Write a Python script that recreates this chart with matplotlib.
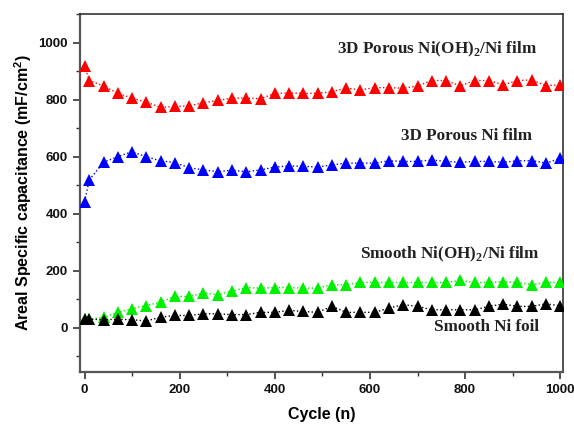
import matplotlib
matplotlib.use("Agg")
import matplotlib.pyplot as plt
from matplotlib.ticker import MultipleLocator

plt.rcParams["mathtext.fontset"] = "custom"
plt.rcParams["mathtext.bf"] = "Liberation Serif:bold"
plt.rcParams["mathtext.rm"] = "Liberation Serif:bold"
plt.rcParams["mathtext.sf"] = "Liberation Sans:bold"

cycles = [0, 10] + list(range(40, 1001, 30))

porous_nioh = [919, 868, 849, 823, 806, 792, 774, 777, 779, 790, 798, 806, 806, 804,
               823, 824, 823, 823, 829, 841, 835, 843, 843, 841, 849, 868, 868, 849,
               868, 868, 853, 868, 870, 850, 853]
porous_ni = [443, 519, 581, 601, 618, 600, 586, 580, 562, 554, 548, 553, 548, 554,
             564, 568, 567, 564, 572, 578, 578, 578, 586, 584, 584, 589, 584, 581,
             584, 584, 581, 586, 587, 578, 595]
smooth_nioh = [30, 30, 36, 54, 67, 78, 90, 110, 110, 122, 116, 129, 141, 139,
               141, 141, 139, 139, 151, 151, 159, 159, 159, 159, 159, 159, 159, 166,
               159, 159, 162, 159, 151, 159, 159]
smooth_ni = [30, 30, 28, 30, 28, 24, 37, 43, 43, 49, 49, 46, 46, 54,
             54, 61, 57, 54, 75, 54, 54, 54, 69, 81, 75, 63, 63, 63,
             63, 75, 83, 75, 75, 84, 77]

labels = ["3D Porous Ni(OH)$_\\mathbf{2}$/Ni film", "3D Porous Ni film",
          "Smooth Ni(OH)$_\\mathbf{2}$/Ni film", "Smooth Ni foil"]
label_pos = [(952, 979), (940, 674), (957, 256), (955, 4)]

series = [porous_nioh, porous_ni, smooth_nioh, smooth_ni]
colors = ["#ff0000", "#0000ff", "#00f000", "#000000"]

fig = plt.figure(figsize=(5.74, 4.25), dpi=100)
ax = fig.add_axes([0.139, 0.125, 0.842, 0.841])

for vals, c in zip(series, colors):
    ax.plot(cycles, vals, linestyle=":", linewidth=1.0, color=c,
            marker="^", markersize=8.5, markeredgewidth=0, zorder=3)

for lab, (x, y) in zip(labels, label_pos):
    ax.text(x, y, lab, ha="right", va="center", fontsize=12.3, fontweight="bold",
            family="Liberation Serif", color="#222222")

ax.set_xlim(-10, 1006)
ax.set_ylim(-155, 1100)
ax.xaxis.set_major_locator(MultipleLocator(200))
ax.xaxis.set_minor_locator(MultipleLocator(100))
ax.yaxis.set_major_locator(MultipleLocator(200))
ax.yaxis.set_minor_locator(MultipleLocator(100))
ax.set_yticks(range(0, 1001, 200))
ax.tick_params(axis="both", which="both", direction="out", colors="#333333")
ax.tick_params(which="major", length=5, width=1.2)
ax.tick_params(which="minor", length=3, width=1.0)
ax.tick_params(top=False, right=False)
for lab in ax.get_xticklabels() + ax.get_yticklabels():
    lab.set_fontweight("bold")
    lab.set_fontsize(9.5)
    lab.set_family("Liberation Sans")
    lab.set_color("#111111")

for s in ["left", "bottom"]:
    ax.spines[s].set_linewidth(1.6)
    ax.spines[s].set_color("#555555")
for s in ["right", "top"]:
    ax.spines[s].set_linewidth(1.2)
    ax.spines[s].set_color("#333333")

ax.set_xlabel("Cycle (n)", fontsize=11.5, fontweight="bold", family="Liberation Sans", labelpad=8)
ax.set_ylabel("Areal Specific capacitance (mF/cm$^\\mathsf{2}$)", fontsize=11.5,
              fontweight="bold", family="Liberation Sans", labelpad=3)

fig.savefig("out.png", dpi=100)
